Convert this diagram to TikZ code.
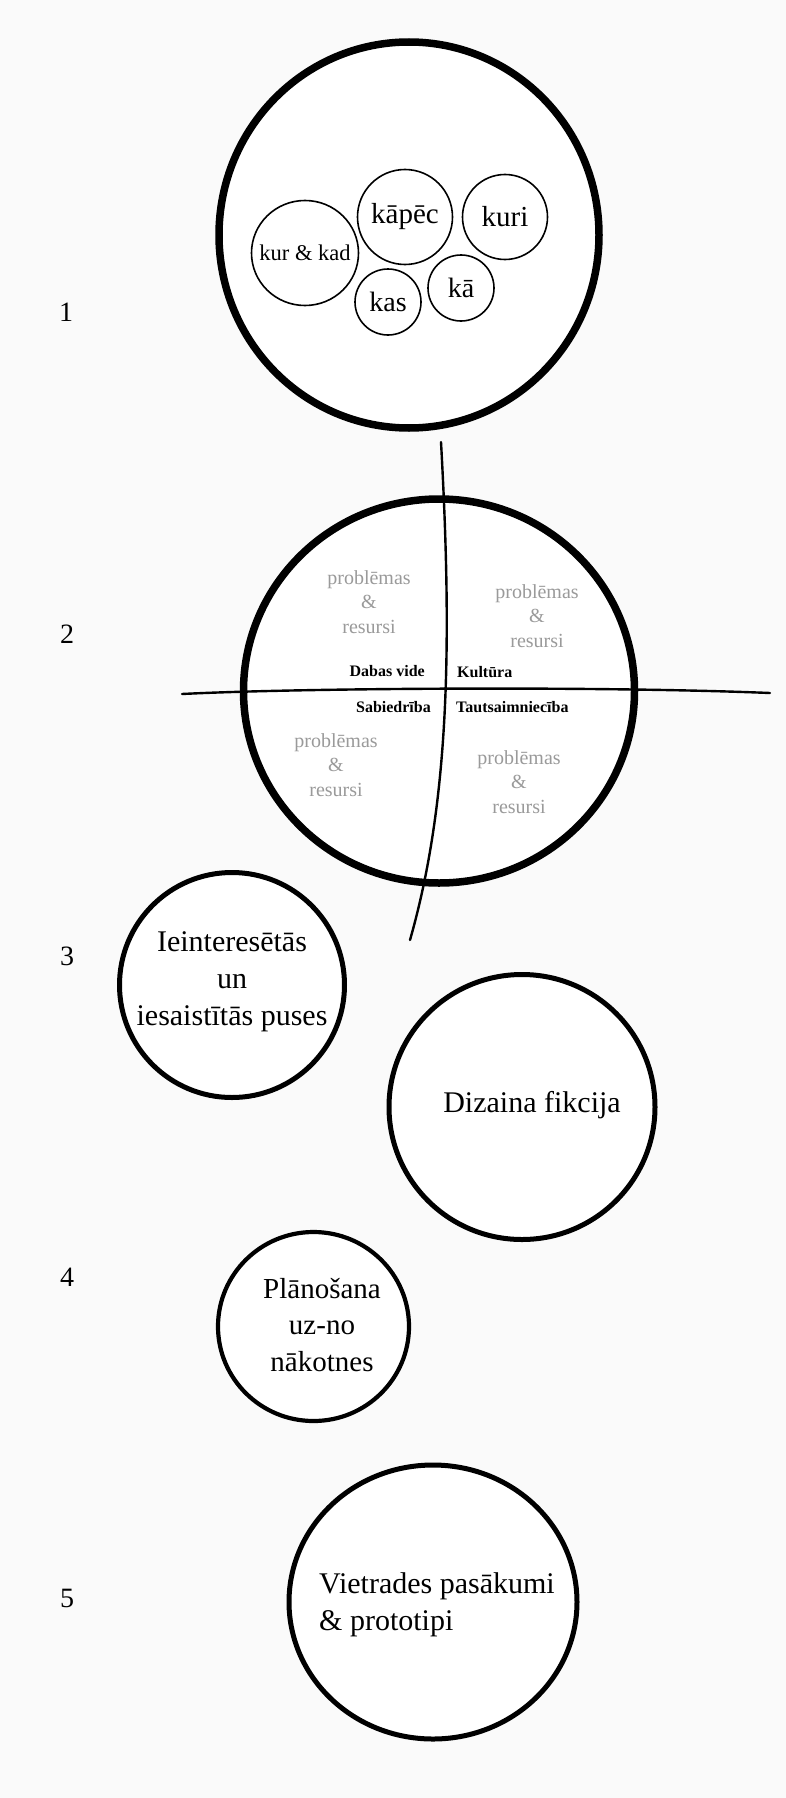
\documentclass[tikz,border=0pt]{standalone}
\usepackage{fontspec}
\setmainfont{Liberation Serif}
\usetikzlibrary{shapes.geometric}
\definecolor{pagebg}{HTML}{FAFAFA}
\definecolor{softgray}{HTML}{9A9A9A}
\begin{document}
\begin{tikzpicture}[x=1pt,y=-1pt,
  ring/.style={draw=black, fill=white, ellipse, inner sep=0pt, outer sep=0pt},
  bigring/.style={ring, line width=7.5pt},
  midring/.style={ring, line width=5pt},
  smallring/.style={ring, line width=1.6pt},
  divider/.style={draw=black, line width=2.4pt, line cap=round},
  bigtxt/.style={inner sep=0pt, align=center, font=\fontsize{30}{37}\selectfont},
  numtxt/.style={inner sep=0pt, font=\fontsize{28}{32}\selectfont},
  qtxt/.style={inner sep=0pt, align=center, text=softgray, font=\fontsize{20}{24.5}\selectfont},
  btxt/.style={inner sep=0pt, font=\bfseries\fontsize{16}{19}\selectfont},
  ]
\fill[pagebg] (0,0) rectangle (786,1798);
\useasboundingbox (0,0) rectangle (786,1798);

% numbers
\node[numtxt] (n1) at (66,312) {1};
\node[numtxt] (n2) at (67,634) {2};
\node[numtxt] (n3) at (67,956) {3};
\node[numtxt] (n4) at (67,1277) {4};
\node[numtxt] (n5) at (67,1598) {5};

% circle 1
\node[bigring, minimum width=380pt, minimum height=386pt] (c1) at (409,235) {};
\node[smallring, minimum width=107pt, minimum height=105pt] (kk) at (305,253) {};
\node[smallring, minimum width=95pt, minimum height=95pt] (kp) at (405,217) {};
\node[smallring, minimum width=85pt, minimum height=85pt] (ku) at (505,217) {};
\node[smallring, minimum width=66pt, minimum height=66pt] (ks) at (388,302) {};
\node[smallring, minimum width=66pt, minimum height=66pt] (ka) at (461,288) {};
\node[inner sep=0pt, font=\fontsize{22.5}{26}\selectfont] at (kk) {kur \& kad};
\node[inner sep=0pt, font=\fontsize{29}{32}\selectfont] at (kp) {kāpēc};
\node[inner sep=0pt, font=\fontsize{29}{32}\selectfont] at (ku) {kuri};
\node[inner sep=0pt, font=\fontsize{28}{32}\selectfont] at (ks) {kas};
\node[inner sep=0pt, font=\fontsize{28}{32}\selectfont] at (ka) {kā};

% circle 2
\node[bigring, minimum width=391pt, minimum height=384pt] (c2) at (439,691) {};
\coordinate (vtop) at (441,442);
\coordinate (vbot) at (410,940);
\coordinate (hl) at (182,694);
\coordinate (hr) at (770,693);
\draw[divider] (vtop) .. controls (452,640) and (450,800) .. (vbot);
\draw[divider] (hl) .. controls (300,688) and (600,686) .. (hr);

\node[qtxt] (q1) at (369,602) {problēmas\\\&\\resursi};
\node[qtxt] (q2) at (537,616) {problēmas\\\&\\resursi};
\node[qtxt] (q3) at (336,765) {problēmas\\\&\\resursi};
\node[qtxt] (q4) at (519,782) {problēmas\\\&\\resursi};

\node[btxt, anchor=east] (l1) at (425,671) {Dabas vide};
\node[btxt, anchor=west] (l2) at (457,672) {Kultūra};
\node[btxt, anchor=east] (l3) at (431,707) {Sabiedrība};
\node[btxt, anchor=west] (l4) at (456,707) {Tautsaimniecība};

% circle 3a, 3b
\node[midring, minimum width=225pt, minimum height=225pt] (c3a) at (232,985) {};
\node[bigtxt] at (232,982) {Ieinteresētās\\un\\iesaistītās puses};
\node[midring, minimum width=266pt, minimum height=265pt] (c3b) at (522,1107) {};
\node[bigtxt] at (532,1105) {Dizaina fikcija};

% circle 4
\node[ring, line width=4.2pt, minimum width=191pt, minimum height=189pt] (c4) at (313.5,1326.5) {};
\node[bigtxt, font=\fontsize{29}{36.5}\selectfont] at (322,1325) {Plānošana\\uz-no\\nākotnes};

% circle 5
\node[midring, minimum width=288pt, minimum height=274pt] (c5) at (433,1602) {};
\node[bigtxt, align=left, anchor=west] at (319,1605) {Vietrades pasākumi\\\& prototipi};
\end{tikzpicture}
\end{document}
